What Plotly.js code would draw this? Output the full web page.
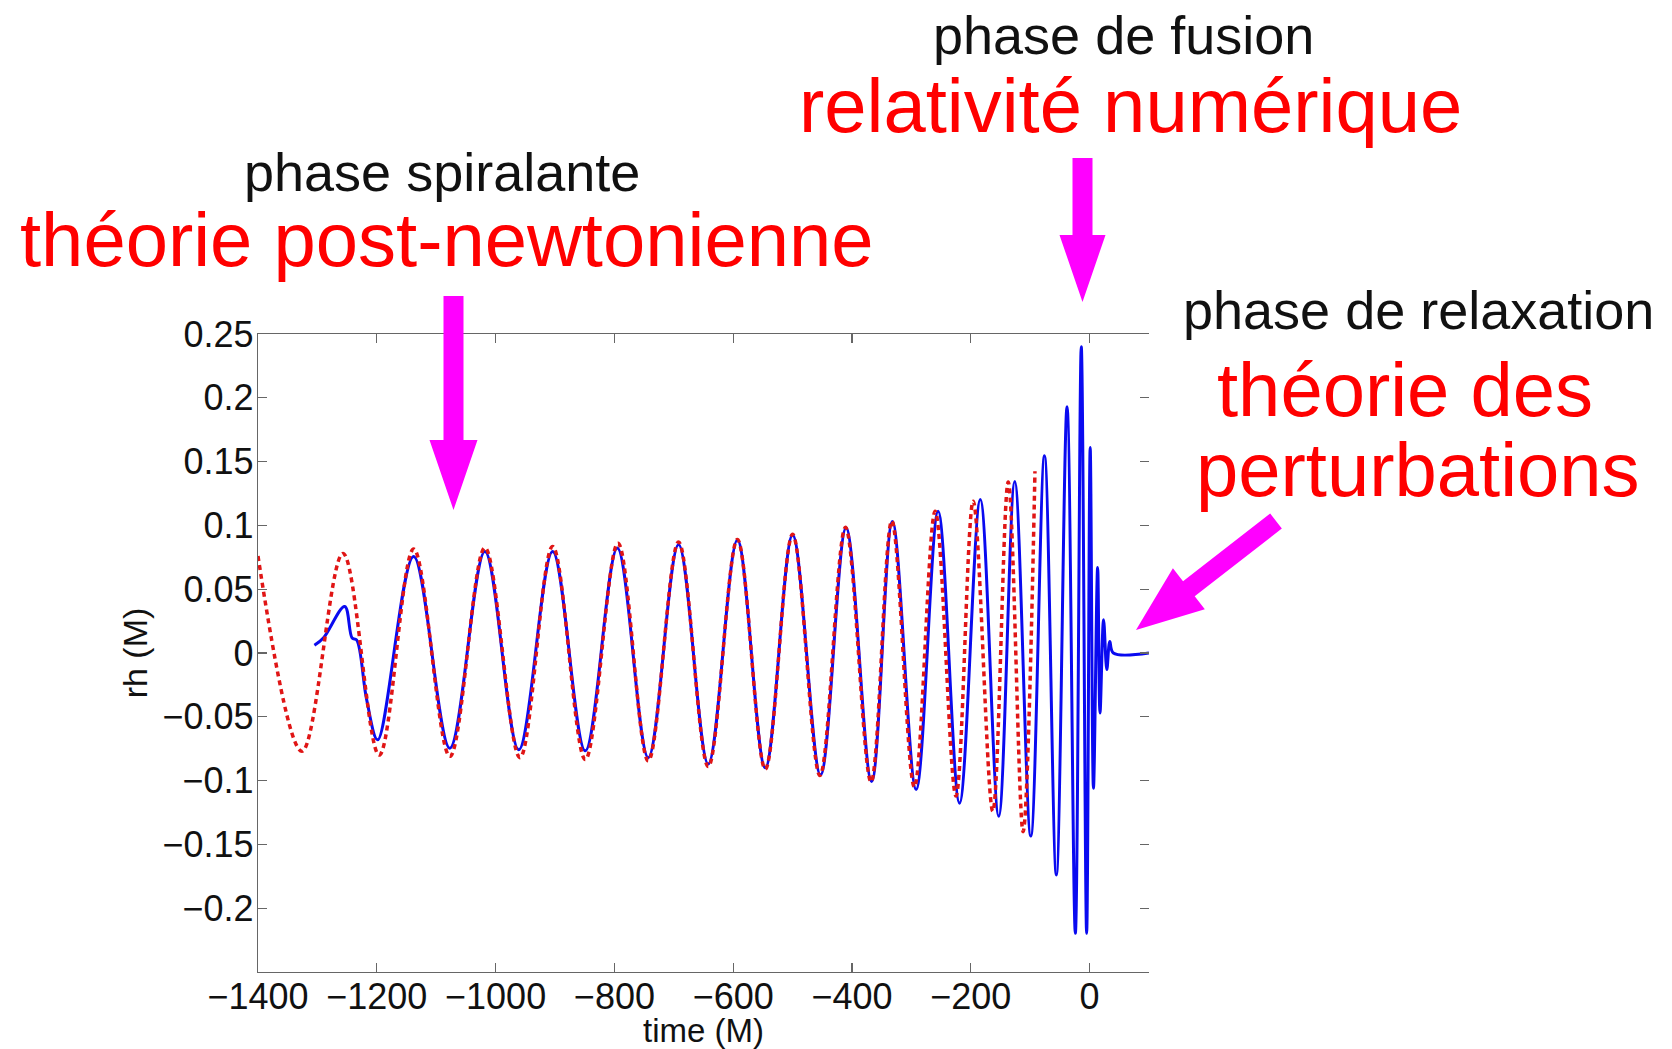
<!DOCTYPE html>
<html>
<head>
<meta charset="utf-8">
<script src="https://cdn.plot.ly/plotly-3.0.1.min.js"></script>
<style>
  html, body { margin: 0; padding: 0; background: #ffffff; }
  #chart { width: 1672px; height: 1049px; }
</style>
</head>
<body>
<div id="chart"></div>
<script>
// ---- Data ----
// Numerical relativity waveform (blue, solid): extrema and key points
const time_NR = [-1305, -1290, -1254, -1241.5, -1234, -1217, -1198.5, -1138, -1077, -1018, -961, -904, -849, -795, -743, -692, -642, -593, -546, -500, -453, -410, -367, -332, -292, -255, -219, -184, -153, -126, -99, -76, -56, -38, -24, -14, -5, 1, 6.5, 13.5, 17.5, 23.5, 29, 34, 40, 100];
const rh_NR   = [0.006, 0.0117, 0.0365, 0.0117, 0.0103, -0.0367, -0.068, 0.0757, -0.0746, 0.0796, -0.0759, 0.0796, -0.0767, 0.0823, -0.082, 0.085, -0.087, 0.0885, -0.0900, 0.0925, -0.0955, 0.098, -0.1008, 0.1031, -0.107, 0.111, -0.1177, 0.1202, -0.128, 0.1345, -0.1435, 0.1545, -0.174, 0.193, -0.2197, 0.240, -0.2197, 0.161, -0.106, 0.067, -0.047, 0.026, -0.013, 0.009, 0.0, 0.0];

// Post-Newtonian waveform (red, dotted): extrema
const time_PN = [-1400, -1326, -1257, -1196, -1138, -1077, -1018, -959, -904, -849, -794, -743, -692, -642, -593, -546, -500, -454, -411, -368, -333, -295, -260, -225, -196, -163, -137, -112, -92];
const rh_PN   = [0.076, -0.077, 0.078, -0.080, 0.0815, -0.081, 0.0825, -0.082, 0.0835, -0.0835, 0.086, -0.0845, 0.087, -0.089, 0.089, -0.091, 0.093, -0.096, 0.0985, -0.101, 0.1035, -0.105, 0.111, -0.112, 0.119, -0.124, 0.1340, -0.1400, 0.1424];

// Ticks
const xTickVals   = [-1400, -1200, -1000, -800, -600, -400, -200, 0];
const xTickLabels = ['\u22121400', '\u22121200', '\u22121000', '\u2212800', '\u2212600', '\u2212400', '\u2212200', '0'];
const yTickVals   = [0.25, 0.2, 0.15, 0.1, 0.05, 0, -0.05, -0.1, -0.15, -0.2];
const yTickLabels = ['0.25', '0.2', '0.15', '0.1', '0.05', '0', '\u22120.05', '\u22120.1', '\u22120.15', '\u22120.2'];

// Texts
const phaseLabels = ['phase spiralante', 'phase de fusion', 'phase de relaxation'];
const theoryLabels = ['théorie post-newtonienne', 'relativité numérique', 'théorie des', 'perturbations'];
const axisTitles = {x: 'time (M)', y: 'rh (M)'};

// ---- Layout geometry (pixels) ----
const W = 1672, H = 1049;
const M = {l: 258, r: 523, t: 334, b: 77};
const P = {l: M.l, r: W - M.r, t: M.t, b: H - M.b};
function toPaper(px, py) {
  return [((px - P.l) / (P.r - P.l)).toFixed(5), ((P.b - py) / (P.b - P.t)).toFixed(5)];
}
function arrowPath(x0, y0, x1, y1, sw, hl, hw) {
  const dx = x1 - x0, dy = y1 - y0, L = Math.hypot(dx, dy);
  const ux = dx / L, uy = dy / L, nx = -uy, ny = ux;
  const bx = x1 - ux * hl, by = y1 - uy * hl;
  const pts = [
    [x0 + nx * sw, y0 + ny * sw], [bx + nx * sw, by + ny * sw], [bx + nx * hw, by + ny * hw],
    [x1, y1],
    [bx - nx * hw, by - ny * hw], [bx - nx * sw, by - ny * sw], [x0 - nx * sw, y0 - ny * sw]
  ];
  return 'M' + pts.map(p => toPaper(p[0], p[1]).join(',')).join('L') + 'Z';
}
function arrowShape(path) {
  return {type: 'path', xref: 'paper', yref: 'paper', path: path,
          fillcolor: '#FF00FF', line: {width: 0}, layer: 'above'};
}
function textAnn(text, cx, cy, size, color) {
  const p = toPaper(cx, cy);
  return {xref: 'paper', yref: 'paper', x: +p[0], y: +p[1], xanchor: 'center', yanchor: 'middle',
          text: text, showarrow: false,
          font: {family: 'Liberation Sans, Arial, sans-serif', size: size, color: color}};
}

const FONT = 'Liberation Sans, Arial, Helvetica, sans-serif';
const AXC = '#666666';
const TICKSIZE = 36;

const traces = [
  {x: time_NR, y: rh_NR, type: 'scatter', mode: 'lines', name: 'NR',
   line: {color: '#0a0af0', width: 3, shape: 'spline', smoothing: 1}, hoverinfo: 'skip'},
  {x: time_PN, y: rh_PN, type: 'scatter', mode: 'lines', name: 'PN', yaxis: 'y2',
   line: {color: '#E01515', width: 3.5, dash: '5px,4px', shape: 'spline', smoothing: 1}, hoverinfo: 'skip'}
];

const layout = {
  width: W, height: H,
  margin: M,
  paper_bgcolor: '#ffffff', plot_bgcolor: '#ffffff',
  showlegend: false,
  font: {family: FONT, color: '#111111'},
  xaxis: {
    range: [-1400, 100], tickmode: 'array', tickvals: xTickVals, ticktext: xTickLabels,
    ticks: 'inside', ticklen: 9, tickwidth: 1.2, tickcolor: AXC,
    showline: true, linecolor: AXC, linewidth: 1.3, mirror: 'ticks',
    showgrid: false, zeroline: false, automargin: false, ticklabelstandoff: -8,
    tickfont: {family: FONT, size: TICKSIZE, color: '#111111'},
    title: {text: axisTitles.x, font: {family: FONT, size: 33, color: '#111111'}, standoff: 6}
  },
  yaxis: {
    range: [-0.25, 0.25], tickmode: 'array', tickvals: yTickVals, ticktext: yTickLabels,
    ticks: 'inside', ticklen: 9, tickwidth: 1.2, tickcolor: AXC,
    showline: true, linecolor: AXC, linewidth: 1.3, mirror: false,
    showgrid: false, zeroline: false, automargin: false, ticklabelstandoff: -4,
    tickfont: {family: FONT, size: TICKSIZE, color: '#111111'},
    title: {text: axisTitles.y, font: {family: FONT, size: 34, color: '#111111'}, standoff: 4}
  },
  yaxis2: {
    overlaying: 'y', side: 'right', range: [-0.25, 0.25], tickmode: 'array', tickvals: yTickVals,
    ticks: 'inside', ticklen: 9, tickwidth: 1.2, tickcolor: AXC,
    showticklabels: false, showline: false, showgrid: false, zeroline: false, automargin: false
  },
  shapes: [
    arrowShape(arrowPath(453.5, 296, 453.5, 510, 10, 70, 24)),
    arrowShape(arrowPath(1082.5, 158, 1082.5, 302, 10, 67, 23)),
    arrowShape(arrowPath(1276, 521, 1136, 630, 9.5, 67, 26))
  ],
  annotations: [
    textAnn(phaseLabels[0], 442, 172, 54, '#111111'),
    textAnn(theoryLabels[0], 446, 240, 76, '#FF0000'),
    textAnn(phaseLabels[1], 1124, 35, 54, '#111111'),
    textAnn(theoryLabels[1], 1130, 106, 76, '#FF0000'),
    textAnn(phaseLabels[2], 1418, 310, 54, '#111111'),
    textAnn(theoryLabels[2], 1405, 390, 76, '#FF0000'),
    textAnn(theoryLabels[3], 1418, 469, 76, '#FF0000')
  ]
};

Plotly.newPlot('chart', traces, layout, {staticPlot: true, displayModeBar: false});
</script>
</body>
</html>
